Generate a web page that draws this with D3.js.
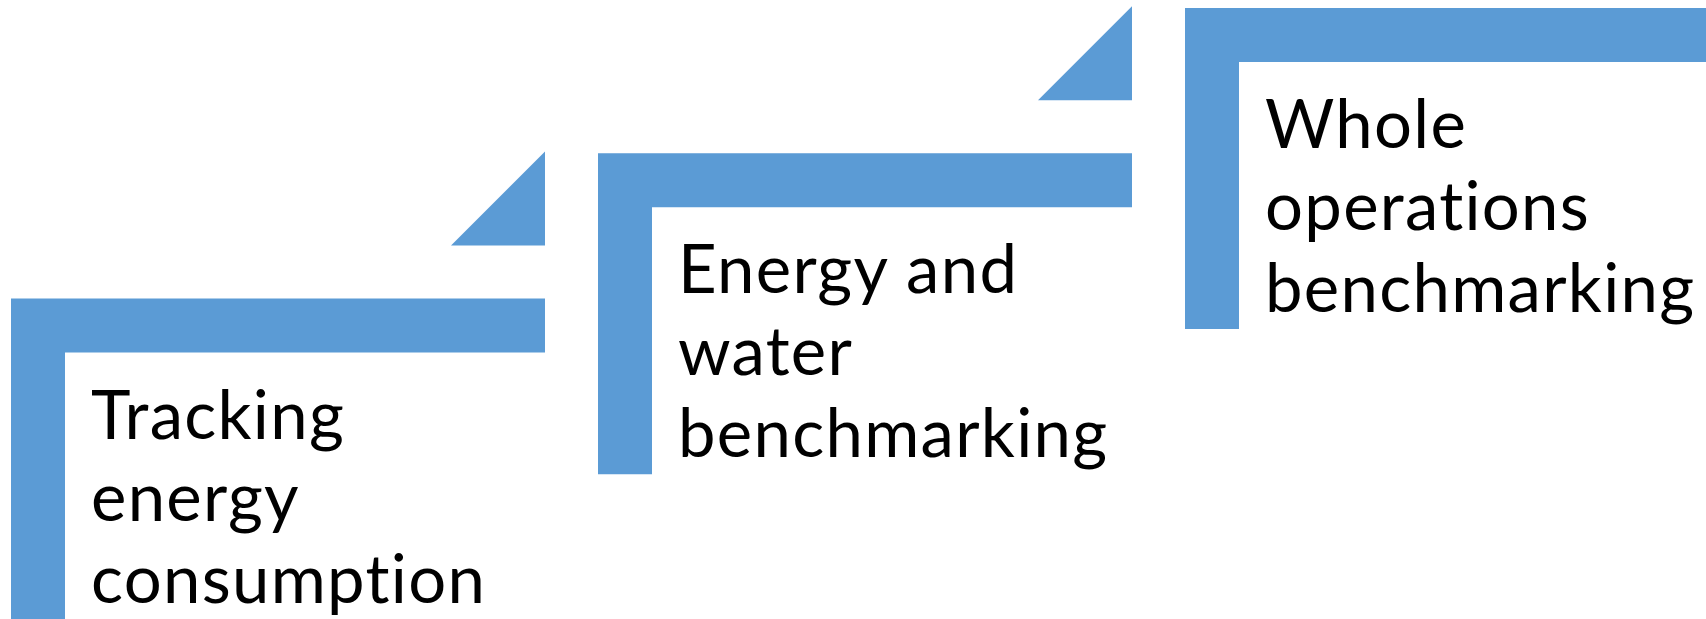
<!DOCTYPE html>
<html>
<head>
<meta charset="utf-8">
<script src="https://cdn.jsdelivr.net/npm/d3@7"></script>
<style>
  html, body { margin: 0; padding: 0; background: #ffffff; }
  svg { display: block; }
  text { font-variant-ligatures: none; font-feature-settings: "liga" 0, "clig" 0; }
</style>
</head>
<body>
<svg id="chart" width="1706" height="619"></svg>
<script>
// ---- data ----
const steps = [0, 1, 2];
const stepLabels = [
  ["Tracking", "energy", "consumption"],
  ["Energy and", "water", "benchmarking"],
  ["Whole", "operations", "benchmarking"]
];
const arrowAfter = [true, true, false];

// ---- layout ----
const W = 1706, H = 619;
const color = "#5B9BD5";
const shapeW = 534, shapeH = 321, thick = 54;
const triSize = 94, triGap = 53;

const x = d3.scaleLinear().domain([0, 2]).range([11, 1185]);
const y = d3.scaleLinear().domain([0, 2]).range([298.5, 8]);

const svg = d3.select("#chart");

const g = svg.selectAll("g.step").data(steps).join("g")
  .attr("class", "step")
  .attr("transform", d => `translate(${x(d)},${y(d)})`);

// L-shaped corner
g.append("path")
  .attr("fill", color)
  .attr("d", `M0,0 H${shapeW} V${thick} H${thick} V${shapeH} H0 Z`);

// small triangle pointing to next step
g.filter(d => arrowAfter[d]).append("path")
  .attr("fill", color)
  .attr("d", `M${shapeW},${-triGap} V${-triGap - triSize} L${shapeW - triSize},${-triGap} Z`);

// labels
const fontSize = 67, lineH = 82;
g.append("text")
  .attr("font-family", "Lato, 'Open Sans', sans-serif")
  .attr("font-size", fontSize)
  .attr("letter-spacing", 1.3)
  .attr("fill", "#000")
  .selectAll("tspan")
  .data(d => stepLabels[d])
  .join("tspan")
  .attr("x", thick + 26)
  .attr("y", (t, i) => thick + 86 + i * lineH)
  .text(t => t);
</script>
</body>
</html>
